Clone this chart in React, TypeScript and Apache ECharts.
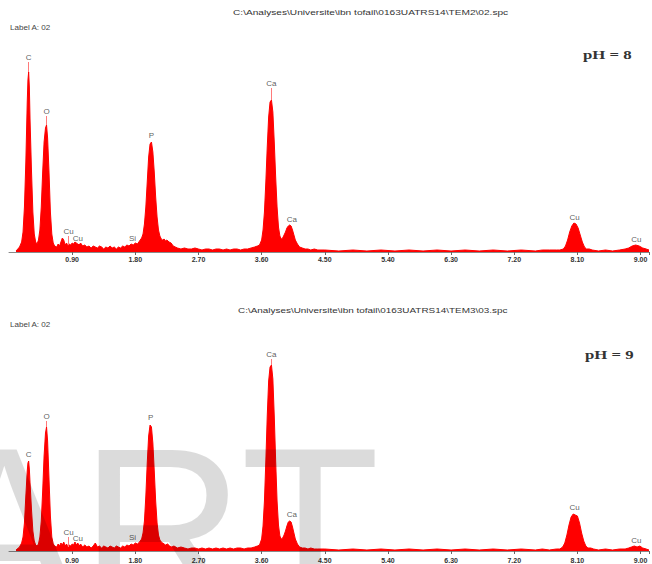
import React, { useEffect, useRef } from "react";
import * as echarts from "echarts";

// ---- Data (energy keV, counts in plot units) ----
const xTickStep = 0.9;

const ph8Spectrum: [number, number][] = [
  [0.10, 1], [0.15, 5], [0.18, 10], [0.20, 20], [0.22, 45], [0.24, 90], [0.26, 150], [0.27, 172],
  [0.28, 180], [0.29, 165], [0.30, 132], [0.32, 82], [0.34, 40], [0.36, 18], [0.38, 10], [0.40, 8],
  [0.42, 12], [0.44, 22], [0.46, 45], [0.48, 80], [0.50, 110], [0.52, 124], [0.535, 127], [0.55, 114],
  [0.57, 80], [0.59, 40], [0.61, 18], [0.63, 9], [0.65, 6], [0.68, 5], [0.70, 8],
  [0.72, 6], [0.74, 10], [0.76, 14], [0.78, 12], [0.80, 7], [0.82, 9], [0.84, 6], [0.86, 8],
  [0.88, 7], [0.90, 9], [0.92, 8], [0.94, 10], [0.96, 9], [0.98, 8], [1.00, 7], [1.02, 9],
  [1.05, 6], [1.08, 7], [1.11, 5], [1.14, 6], [1.17, 4], [1.20, 6], [1.23, 5], [1.26, 4],
  [1.29, 6], [1.32, 5], [1.35, 3], [1.38, 5], [1.41, 4], [1.44, 6], [1.47, 4], [1.50, 5],
  [1.53, 3], [1.56, 5], [1.59, 4], [1.62, 6], [1.65, 5], [1.68, 7], [1.71, 6], [1.74, 8],
  [1.77, 7], [1.80, 9], [1.83, 8], [1.86, 11], [1.89, 14], [1.91, 18], [1.93, 28], [1.95, 45],
  [1.97, 70], [1.99, 95], [2.01, 108], [2.03, 110], [2.05, 100], [2.07, 80], [2.09, 55], [2.11, 35],
  [2.13, 22], [2.15, 16], [2.17, 13], [2.19, 12], [2.21, 13], [2.23, 11], [2.25, 12], [2.28, 10],
  [2.31, 9], [2.34, 6], [2.37, 5], [2.40, 4], [2.45, 3], [2.50, 4], [2.55, 3], [2.60, 3],
  [2.65, 4], [2.70, 3], [2.75, 2], [2.80, 3], [2.85, 3], [2.90, 2], [2.95, 3], [3.00, 3],
  [3.05, 2], [3.10, 3], [3.15, 2], [3.20, 3], [3.25, 3], [3.30, 2], [3.35, 3], [3.40, 3],
  [3.45, 4], [3.50, 5], [3.54, 6], [3.57, 7], [3.60, 12], [3.62, 22], [3.64, 40], [3.66, 70],
  [3.68, 105], [3.70, 135], [3.72, 150], [3.74, 152], [3.76, 140], [3.78, 110], [3.80, 75], [3.82, 45],
  [3.84, 25], [3.86, 16], [3.88, 13], [3.90, 14], [3.92, 17], [3.94, 20], [3.96, 24], [3.98, 26],
  [4.00, 27], [4.02, 26], [4.04, 22], [4.06, 17], [4.08, 12], [4.11, 8], [4.14, 5], [4.18, 4],
  [4.22, 3], [4.26, 3], [4.30, 2], [4.35, 3], [4.40, 2], [4.50, 2], [4.70, 1], [4.90, 2],
  [5.10, 1], [5.30, 2], [5.50, 1], [5.70, 2], [5.90, 1], [6.10, 2], [6.30, 1], [6.50, 2],
  [6.70, 1], [6.90, 2], [7.10, 1], [7.30, 2], [7.50, 1], [7.60, 2], [7.70, 2], [7.80, 2],
  [7.85, 2], [7.90, 3], [7.93, 6], [7.96, 12], [7.99, 20], [8.02, 26], [8.05, 29], [8.08, 28],
  [8.11, 24], [8.14, 17], [8.17, 10], [8.20, 5], [8.23, 3], [8.27, 3], [8.31, 2], [8.40, 1],
  [8.50, 2], [8.60, 1], [8.70, 2], [8.78, 3], [8.83, 4], [8.88, 6], [8.93, 7], [8.98, 6],
  [9.03, 4], [9.08, 3], [9.12, 2],
];

const ph9Spectrum: [number, number][] = [
  [0.10, 1], [0.15, 4], [0.18, 8], [0.20, 14], [0.22, 28], [0.24, 55], [0.26, 80], [0.27, 88],
  [0.28, 90], [0.29, 82], [0.30, 68], [0.32, 42], [0.34, 20], [0.36, 10], [0.38, 6], [0.40, 5],
  [0.42, 7], [0.44, 14], [0.46, 30], [0.48, 60], [0.50, 95], [0.52, 118], [0.535, 124], [0.55, 110],
  [0.57, 72], [0.59, 35], [0.61, 14], [0.63, 7], [0.65, 5], [0.68, 4], [0.70, 7],
  [0.72, 5], [0.74, 8], [0.76, 6], [0.78, 9], [0.80, 5], [0.82, 7], [0.84, 4], [0.86, 6],
  [0.88, 5], [0.90, 7], [0.92, 6], [0.94, 9], [0.96, 6], [0.98, 8], [1.00, 5], [1.02, 7],
  [1.05, 4], [1.08, 6], [1.11, 4], [1.14, 5], [1.17, 3], [1.20, 5], [1.23, 8], [1.26, 4],
  [1.29, 5], [1.32, 3], [1.35, 5], [1.38, 4], [1.41, 3], [1.44, 5], [1.47, 4], [1.50, 3],
  [1.53, 5], [1.56, 4], [1.59, 3], [1.62, 5], [1.65, 4], [1.68, 6], [1.71, 5], [1.74, 7],
  [1.77, 6], [1.80, 8], [1.83, 7], [1.86, 9], [1.89, 12], [1.91, 18], [1.93, 30], [1.95, 55],
  [1.97, 88], [1.99, 115], [2.01, 126], [2.03, 124], [2.05, 108], [2.07, 80], [2.09, 50], [2.11, 28],
  [2.13, 16], [2.15, 11], [2.17, 9], [2.19, 8], [2.21, 7], [2.23, 6], [2.26, 7], [2.29, 5],
  [2.32, 4], [2.35, 5], [2.40, 3], [2.45, 4], [2.50, 3], [2.55, 2], [2.60, 3], [2.65, 3],
  [2.70, 2], [2.75, 3], [2.80, 2], [2.85, 3], [2.90, 2], [2.95, 3], [3.00, 2], [3.05, 3],
  [3.10, 2], [3.15, 3], [3.20, 2], [3.25, 3], [3.30, 3], [3.35, 2], [3.40, 3], [3.45, 3],
  [3.50, 4], [3.54, 5], [3.57, 6], [3.60, 12], [3.62, 25], [3.64, 50], [3.66, 90], [3.68, 135],
  [3.70, 170], [3.72, 184], [3.74, 186], [3.76, 172], [3.78, 135], [3.80, 90], [3.82, 50], [3.84, 26],
  [3.86, 15], [3.88, 12], [3.90, 13], [3.92, 16], [3.94, 20], [3.96, 25], [3.98, 29], [4.00, 30],
  [4.02, 29], [4.04, 24], [4.06, 18], [4.08, 12], [4.11, 7], [4.14, 4], [4.18, 3], [4.22, 3],
  [4.26, 2], [4.30, 3], [4.35, 2], [4.40, 2], [4.50, 2], [4.70, 1], [4.90, 2], [5.10, 1],
  [5.30, 2], [5.50, 1], [5.70, 2], [5.90, 1], [6.10, 2], [6.30, 1], [6.50, 2], [6.70, 1],
  [6.90, 2], [7.10, 1], [7.30, 2], [7.50, 1], [7.60, 2], [7.70, 1], [7.80, 2], [7.85, 2],
  [7.89, 4], [7.92, 8], [7.95, 16], [7.98, 26], [8.01, 34], [8.04, 37], [8.07, 36], [8.10, 35],
  [8.13, 28], [8.16, 18], [8.19, 10], [8.22, 5], [8.25, 3], [8.29, 3], [8.33, 2], [8.40, 1],
  [8.50, 2], [8.60, 1], [8.70, 2], [8.78, 2], [8.83, 3], [8.87, 4], [8.91, 5], [8.95, 4],
  [8.99, 5], [9.03, 3], [9.08, 2], [9.12, 1],
];

const ph8PeakNames = ["C", "O", "Cu", "Cu", "Si", "P", "Ca", "Ca", "Cu", "Cu"];
const ph8PeakEnergy = [0.28, 0.535, 0.85, 0.98, 1.76, 2.03, 3.74, 4.03, 8.06, 8.94];
const ph8PeakTop = [180, 127, 8, 8, 7, 110, 152, 27, 29, 7];
const ph8LabelHeight = [190, 136, 16, 9, 9, 112, 164, 28, 30, 8];

const ph9PeakNames = ["C", "O", "Cu", "Cu", "Si", "P", "Ca", "Ca", "Cu", "Cu"];
const ph9PeakEnergy = [0.28, 0.535, 0.85, 0.98, 1.76, 2.02, 3.74, 4.03, 8.06, 8.94];
const ph9PeakTop = [90, 124, 4, 8, 7, 126, 186, 30, 37, 5];
const ph9LabelHeight = [92, 130, 14, 8, 9, 129, 192, 32, 39, 6];

const titles = [
  "C:\\Analyses\\Universite\\ibn tofail\\0163UATRS14\\TEM2\\02.spc",
  "C:\\Analyses\\Universite\\ibn tofail\\0163UATRS14\\TEM3\\03.spc",
];
const panelLabels = ["pH = 8", "pH = 9"];
const sampleLabel = "Label A: 02";

export default function App() {
  const ref = useRef<HTMLDivElement>(null);

  useEffect(() => {
    if (!ref.current) return;
    const chart = echarts.init(ref.current, undefined, { renderer: "svg" });
    const RED = "#ff0000";

    const xAxisBase = (gridIndex: number, labelMargin: number) => ({
      type: "value",
      gridIndex,
      min: 0,
      max: 9.12,
      interval: xTickStep,
      axisLine: { show: true, lineStyle: { color: "#8a8a8a", width: 1 } },
      axisTick: { show: true, inside: false, length: 3, lineStyle: { color: "#666" } },
      splitLine: { show: false },
      axisLabel: {
        show: true,
        margin: labelMargin,
        fontSize: 7,
        fontWeight: "bold",
        fontFamily: "Liberation Sans, Arial, sans-serif",
        color: "#333",
        showMinLabel: false,
        formatter: (v: number) => {
          if (v === 0) return "";
          const k = v / xTickStep;
          if (Math.abs(k - Math.round(k)) > 1e-6) return "";
          return v.toFixed(2);
        },
      },
    });

    const yAxisBase = (gridIndex: number) => ({
      type: "value",
      gridIndex,
      min: 0,
      max: 200,
      show: false,
    });

    const leaders = (energy: number[], top: number[], lab: number[]) =>
      energy
        .map((e, i) => ({ e, t: top[i], l: lab[i] }))
        .filter((d) => d.l - d.t > 3)
        .map((d) => [{ coord: [d.e, d.t] }, { coord: [d.e, d.l] }]);

    const spectrumSeries = (data: [number, number][], idx: number, energy: number[], top: number[], lab: number[]) => ({
      type: "line",
      xAxisIndex: idx,
      yAxisIndex: idx,
      data,
      symbol: "none",
      smooth: false,
      lineStyle: { color: RED, width: 1 },
      areaStyle: { color: RED, opacity: 1 },
      markLine: {
        silent: true,
        symbol: ["none", "none"],
        label: { show: false },
        lineStyle: { color: "#ff7a7a", width: 1, type: "solid" },
        data: leaders(energy, top, lab),
      },
      z: 2,
    });

    const labelSeries = (names: string[], energy: number[], lab: number[], idx: number) => ({
      type: "scatter",
      xAxisIndex: idx,
      yAxisIndex: idx,
      symbolSize: 0,
      data: names.map((n, i) => ({ name: n, value: [energy[i], lab[i]] })),
      label: {
        show: true,
        position: "top",
        distance: 1,
        formatter: "{b}",
        fontSize: 8,
        fontFamily: "Liberation Sans, Arial, sans-serif",
        color: "#333",
      },
      z: 3,
    });

    chart.setOption({
      animation: false,
      backgroundColor: "#ffffff",
      grid: [
        { left: 9, right: 1, top: 52, height: 200 },
        { left: 9, right: 1, top: 351, height: 200 },
      ],
      xAxis: [xAxisBase(0, 4), xAxisBase(1, 6)],
      yAxis: [yAxisBase(0), yAxisBase(1)],
      series: [
        spectrumSeries(ph8Spectrum, 0, ph8PeakEnergy, ph8PeakTop, ph8LabelHeight),
        labelSeries(ph8PeakNames, ph8PeakEnergy, ph8LabelHeight, 0),
        spectrumSeries(ph9Spectrum, 1, ph9PeakEnergy, ph9PeakTop, ph9LabelHeight),
        labelSeries(ph9PeakNames, ph9PeakEnergy, ph9LabelHeight, 1),
      ],
      graphic: [
        {
          type: "text", x: 233, y: 13, scaleX: 1.45, z: 10,
          style: { text: titles[0], fontSize: 7, fontFamily: "Liberation Sans, Arial, sans-serif", fill: "#333", align: "left", verticalAlign: "middle" },
        },
        {
          type: "text", x: 238, y: 311, scaleX: 1.42, z: 10,
          style: { text: titles[1], fontSize: 7, fontFamily: "Liberation Sans, Arial, sans-serif", fill: "#333", align: "left", verticalAlign: "middle" },
        },
        {
          type: "text", x: 10, y: 28, scaleX: 1.15, z: 10,
          style: { text: sampleLabel, fontSize: 7, fontFamily: "Liberation Sans, Arial, sans-serif", fill: "#444", align: "left", verticalAlign: "middle" },
        },
        {
          type: "text", x: 10, y: 325, scaleX: 1.15, z: 10,
          style: { text: sampleLabel, fontSize: 7, fontFamily: "Liberation Sans, Arial, sans-serif", fill: "#444", align: "left", verticalAlign: "middle" },
        },
        {
          type: "text", x: 583, y: 55, scaleX: 1.4, z: 10,
          style: { text: panelLabels[0], fontSize: 12, fontWeight: "bold", fontFamily: "Liberation Serif, Times New Roman, serif", fill: "#333", align: "left", verticalAlign: "middle" },
        },
        {
          type: "text", x: 585, y: 355, scaleX: 1.4, z: 10,
          style: { text: panelLabels[1], fontSize: 12, fontWeight: "bold", fontFamily: "Liberation Serif, Times New Roman, serif", fill: "#333", align: "left", verticalAlign: "middle" },
        },
        {
          type: "text", x: -72, y: 528, z: 100, silent: true,
          style: { text: "ART", fontSize: 228, fontFamily: "Liberation Sans, Arial, sans-serif", fill: "rgba(0,0,0,0.14)", align: "left", verticalAlign: "middle" },
        },
      ],
    });

    return () => chart.dispose();
  }, []);

  return (
    <div
      ref={ref}
      style={{ position: "fixed", left: 0, top: 0, width: 652, height: 564, background: "#fff" }}
    />
  );
}
